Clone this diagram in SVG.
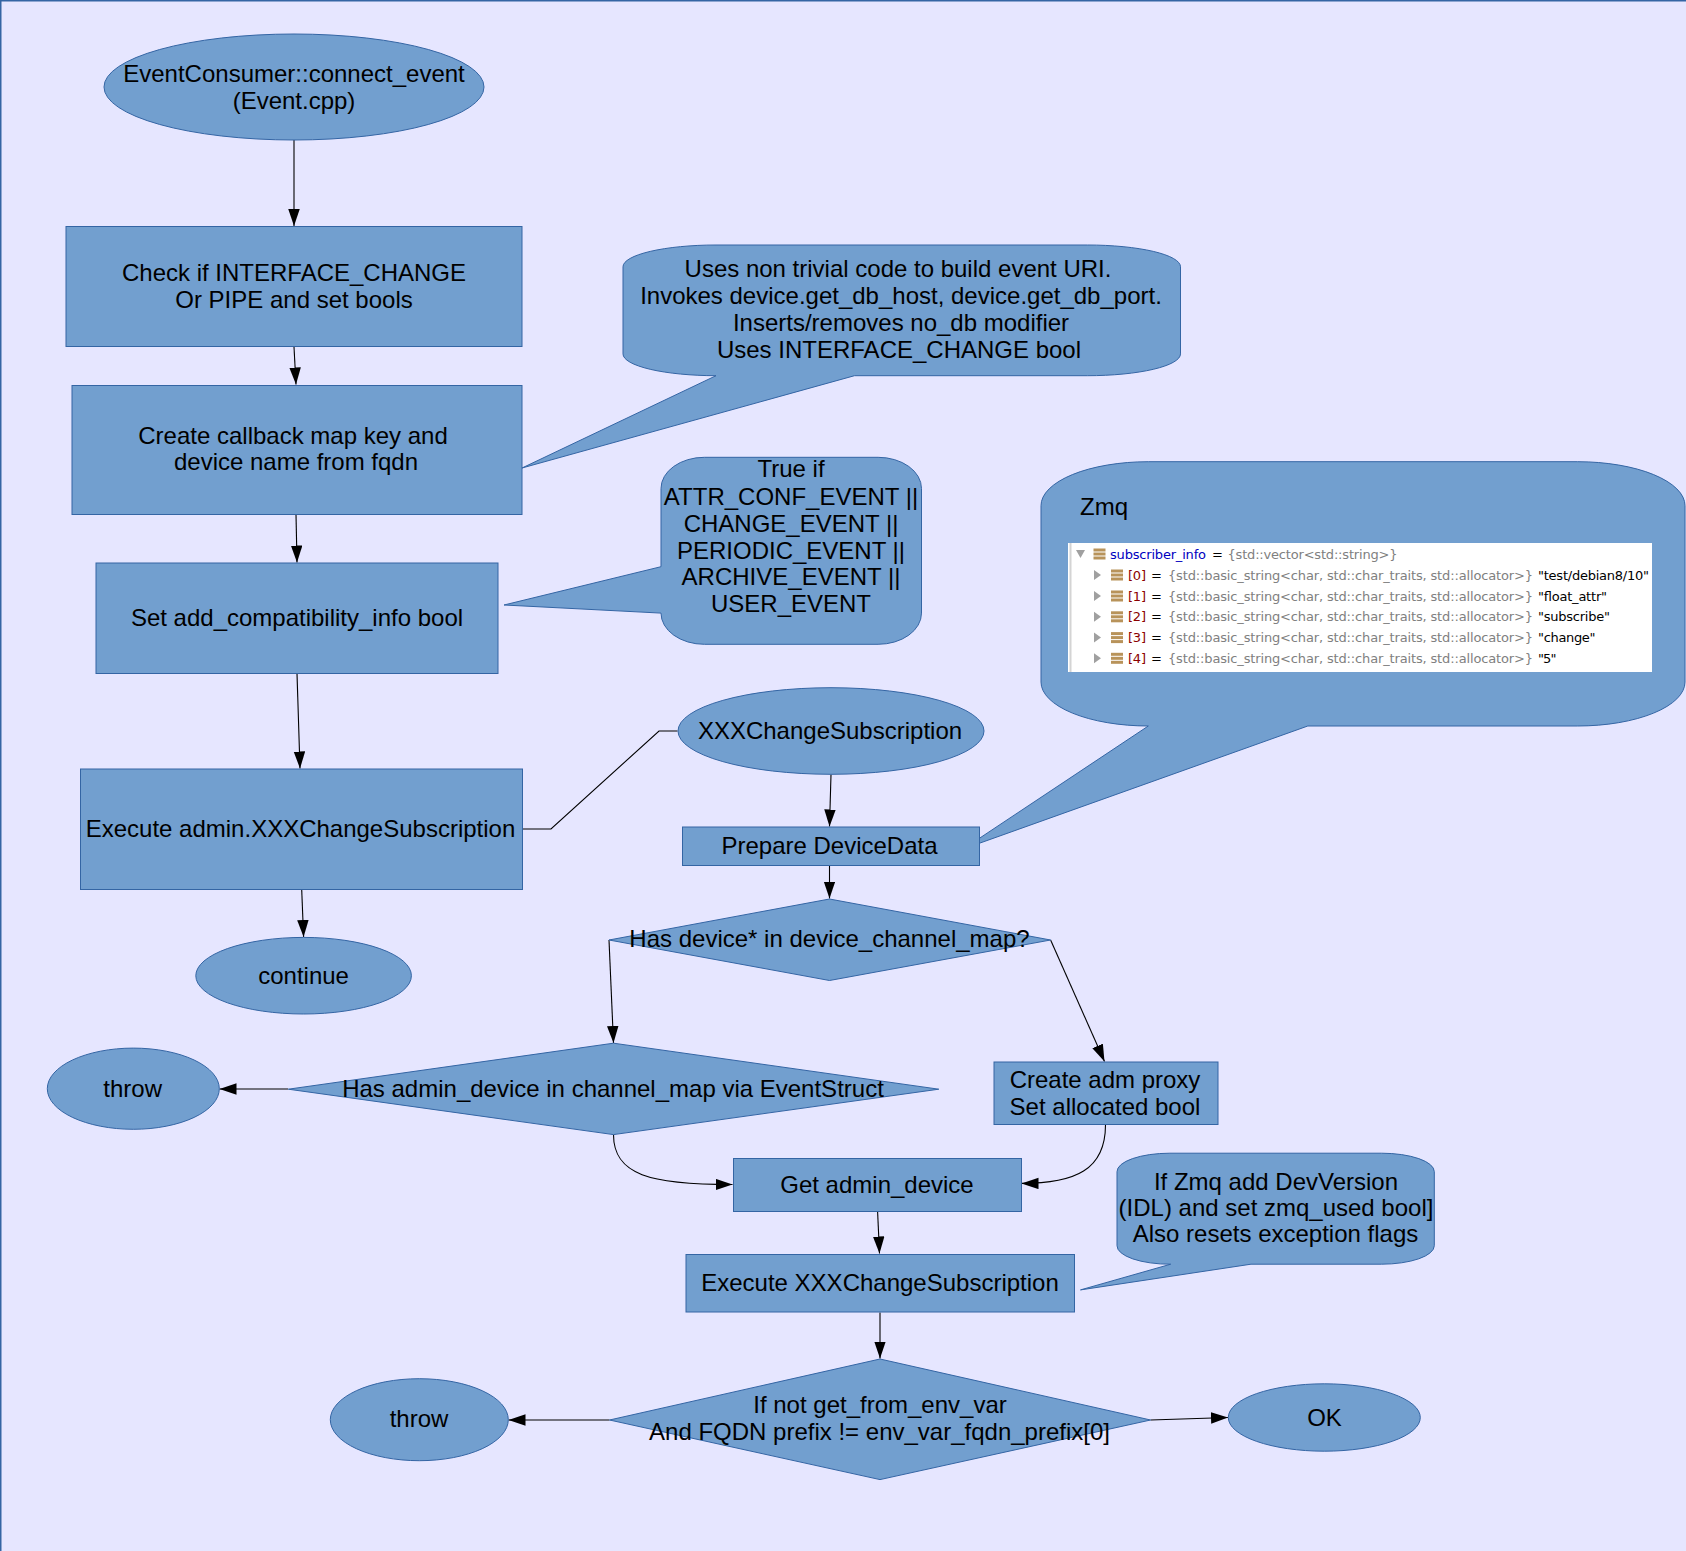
<svg xmlns="http://www.w3.org/2000/svg" width="1686" height="1551" viewBox="0 0 1686 1551">
<style>
.sh{fill:#729fcf;stroke:#3465a4;stroke-width:1}
.t{font-family:"Liberation Sans",Arial,sans-serif;font-size:24px;fill:#000;text-anchor:middle}
.c{fill:none;stroke:#000;stroke-width:1.1}
.ca{fill:none;stroke:#000;stroke-width:1.1;marker-end:url(#ah)}
.tr{font-family:"DejaVu Sans",Verdana,sans-serif;font-size:13px}
.g{fill:#808080}
.v{fill:#0000c0}
.k{fill:#000}
.r{fill:#8b0000}
.ic{fill:#b8935a}
.tri{fill:#a0a0a0}
</style>
<defs>
<marker id="ah" markerUnits="userSpaceOnUse" markerWidth="18" markerHeight="12" refX="17" refY="5.75" orient="auto">
<path d="M0,0 L17,5.75 L0,11.5 Z" fill="#000"/>
</marker>
<g id="icon"><rect x="0" y="-5.5" width="12" height="3"/><rect x="0" y="-1.5" width="12" height="3"/><rect x="0" y="2.5" width="12" height="3"/></g>
</defs>
<rect x="0" y="0" width="1686" height="1551" fill="#e6e6ff"/>
<path d="M0.75,1551 V0.75 H1686" fill="none" stroke="#3465a4" stroke-width="1.5"/>

<g id="connectors">
<path class="ca" d="M294,140 L294,226"/>
<path class="ca" d="M294,347 L296,384.5"/>
<path class="ca" d="M296,514.5 L297,562.5"/>
<path class="ca" d="M297,673.5 L300,768.5"/>
<path class="ca" d="M301.7,889.5 L303.6,937"/>
<path class="c" d="M522,829 L551,829 L659,731 L677.5,731"/>
<path class="ca" d="M831,774.5 L829.5,826.5"/>
<path class="ca" d="M829.5,865.5 L829.5,898.5"/>
<path class="ca" d="M609,940 L613.5,1043"/>
<path class="ca" d="M1050.6,940 L1104.5,1061.5"/>
<path class="ca" d="M288,1089 L219.5,1089"/>
<path class="ca" d="M613.5,1134.6 C613.5,1175 650,1184.5 732.5,1184.5"/>
<path class="ca" d="M1105.5,1124.7 C1105.5,1170 1075,1183.4 1021.5,1183.4"/>
<path class="ca" d="M877.6,1211.5 L879.5,1253.5"/>
<path class="ca" d="M880,1312.5 L880,1358.5"/>
<path class="ca" d="M609.5,1420 L508.5,1420"/>
<path class="ca" d="M1150.6,1420 L1228,1417.5"/>
</g>

<g id="n_start">
<ellipse class="sh" cx="294" cy="87" rx="190" ry="53"/>
<text class="t" x="294" y="82">EventConsumer::connect_event</text>
<text class="t" x="294" y="109">(Event.cpp)</text>
</g>

<g id="n_check">
<rect class="sh" x="66" y="226.5" width="456" height="120"/>
<text class="t" x="294" y="281">Check if INTERFACE_CHANGE</text>
<text class="t" x="294" y="307.5">Or PIPE and set bools</text>
</g>

<g id="n_callback">
<rect class="sh" x="72" y="385.5" width="450" height="129"/>
<text class="t" x="293" y="444">Create callback map key and</text>
<text class="t" x="296" y="470">device name from fqdn</text>
</g>

<g id="note_uri">
<path class="sh" d="M716,245 L1087.5,245 A93 21.8 0 0 1 1180.5,266.8 L1180.5,353.9 A93 21.8 0 0 1 1087.5,375.7 L854.5,375.7 L522,468 L716,375.7 A93 21.8 0 0 1 623,353.9 L623,266.8 A93 21.8 0 0 1 716,245 Z"/>
<text class="t" x="898" y="277">Uses non trivial code to build event URI.</text>
<text class="t" x="901" y="304">Invokes device.get_db_host, device.get_db_port.</text>
<text class="t" x="901" y="331">Inserts/removes no_db modifier</text>
<text class="t" x="899" y="358">Uses INTERFACE_CHANGE bool</text>
</g>

<g id="n_compat">
<rect class="sh" x="96" y="563" width="402" height="110.5"/>
<text class="t" x="297" y="626">Set add_compatibility_info bool</text>
</g>

<g id="note_true">
<path class="sh" d="M704.4,457.3 L878.1,457.3 A43.4 31.2 0 0 1 921.5,488.5 L921.5,613.1 A43.4 31.2 0 0 1 878.1,644.3 L704.4,644.3 A43.4 31.2 0 0 1 661,613.1 L504,605 L661,566.7 L661,488.5 A43.4 31.2 0 0 1 704.4,457.3 Z"/>
<text class="t" x="791" y="477">True if</text>
<text class="t" x="791" y="505">ATTR_CONF_EVENT ||</text>
<text class="t" x="791" y="531.5">CHANGE_EVENT ||</text>
<text class="t" x="791" y="558.5">PERIODIC_EVENT ||</text>
<text class="t" x="791" y="585">ARCHIVE_EVENT ||</text>
<text class="t" x="791" y="611.5">USER_EVENT</text>
</g>

<g id="note_zmq">
<path class="sh" d="M1148.3,461.7 L1577.7,461.7 A107.3 44 0 0 1 1685,505.7 L1685,682 A107.3 44 0 0 1 1577.7,726 L1307.8,726 L963.3,849 L1148.3,726 A107.3 44 0 0 1 1041,682 L1041,505.7 A107.3 44 0 0 1 1148.3,461.7 Z"/>
<text class="t" x="1080" y="515" style="text-anchor:start">Zmq</text>
<rect x="1068" y="543" width="584" height="129" fill="#fff"/>
<rect x="1069.5" y="543" width="2" height="129" fill="#d4d4d4"/>
<path class="tri" d="M1076,550 L1085,550 L1080.5,558 Z"/>
<use href="#icon" x="1093.5" y="554" class="ic"/>
<text class="tr" y="558.5"><tspan class="v" x="1110" textLength="96">subscriber_info</tspan><tspan class="k" x="1212">=</tspan><tspan class="g" x="1227.5" textLength="170">{std::vector&lt;std::string&gt;}</tspan></text>
<path class="tri" d="M1094,570 L1101,575 L1094,580 Z"/>
<use href="#icon" x="1111" y="575" class="ic"/>
<text class="tr" y="579.5"><tspan class="r" x="1128" textLength="18">[0]</tspan><tspan class="k" x="1151">=</tspan><tspan class="g" x="1168" textLength="365">{std::basic_string&lt;char, std::char_traits, std::allocator&gt;}</tspan><tspan class="k" x="1538" textLength="111">"test/debian8/10"</tspan></text>
<path class="tri" d="M1094,591 L1101,596 L1094,601 Z"/>
<use href="#icon" x="1111" y="596" class="ic"/>
<text class="tr" y="600.5"><tspan class="r" x="1128" textLength="18">[1]</tspan><tspan class="k" x="1151">=</tspan><tspan class="g" x="1168" textLength="365">{std::basic_string&lt;char, std::char_traits, std::allocator&gt;}</tspan><tspan class="k" x="1538" textLength="69">"float_attr"</tspan></text>
<path class="tri" d="M1094,611.8 L1101,616.8 L1094,621.8 Z"/>
<use href="#icon" x="1111" y="616.8" class="ic"/>
<text class="tr" y="621.3"><tspan class="r" x="1128" textLength="18">[2]</tspan><tspan class="k" x="1151">=</tspan><tspan class="g" x="1168" textLength="365">{std::basic_string&lt;char, std::char_traits, std::allocator&gt;}</tspan><tspan class="k" x="1538" textLength="72">"subscribe"</tspan></text>
<path class="tri" d="M1094,632.6 L1101,637.6 L1094,642.6 Z"/>
<use href="#icon" x="1111" y="637.6" class="ic"/>
<text class="tr" y="642.1"><tspan class="r" x="1128" textLength="18">[3]</tspan><tspan class="k" x="1151">=</tspan><tspan class="g" x="1168" textLength="365">{std::basic_string&lt;char, std::char_traits, std::allocator&gt;}</tspan><tspan class="k" x="1538" textLength="57.5">"change"</tspan></text>
<path class="tri" d="M1094,653.3 L1101,658.3 L1094,663.3 Z"/>
<use href="#icon" x="1111" y="658.3" class="ic"/>
<text class="tr" y="662.8"><tspan class="r" x="1128" textLength="18">[4]</tspan><tspan class="k" x="1151">=</tspan><tspan class="g" x="1168" textLength="365">{std::basic_string&lt;char, std::char_traits, std::allocator&gt;}</tspan><tspan class="k" x="1538" textLength="18.5">"5"</tspan></text>
</g>

<g id="n_exec_admin">
<rect class="sh" x="80.5" y="769" width="442" height="120.5"/>
<text class="t" x="300.5" y="837">Execute admin.XXXChangeSubscription</text>
</g>

<g id="n_xxx">
<ellipse class="sh" cx="831" cy="731" rx="153" ry="43.3"/>
<text class="t" x="830" y="739">XXXChangeSubscription</text>
</g>

<g id="n_prepare">
<rect class="sh" x="682.5" y="827" width="297" height="38.5"/>
<text class="t" x="829.5" y="853.5">Prepare DeviceData</text>
</g>

<g id="n_continue">
<ellipse class="sh" cx="303.6" cy="975.7" rx="107.8" ry="38.3"/>
<text class="t" x="303.6" y="983.5">continue</text>
</g>

<g id="n_has_device">
<path class="sh" d="M829.5,899 L1050.6,940 L829.5,980.5 L609,940 Z"/>
<text class="t" x="829.5" y="947">Has device* in device_channel_map?</text>
</g>

<g id="n_throw1">
<ellipse class="sh" cx="133.3" cy="1088.7" rx="86" ry="40.6"/>
<text class="t" x="132.7" y="1096.6">throw</text>
</g>

<g id="n_has_admin">
<path class="sh" d="M613.5,1043.2 L938.8,1089.2 L613.5,1134.6 L288.3,1089.2 Z"/>
<text class="t" x="613" y="1096.6">Has admin_device in channel_map via EventStruct</text>
</g>

<g id="n_create_adm">
<rect class="sh" x="994" y="1062" width="224" height="62.5"/>
<text class="t" x="1105" y="1088">Create adm proxy</text>
<text class="t" x="1105" y="1115">Set allocated bool</text>
</g>

<g id="n_get_admin">
<rect class="sh" x="733.5" y="1158.5" width="288" height="53"/>
<text class="t" x="877" y="1192.5">Get admin_device</text>
</g>

<g id="note_zmq_dev">
<path class="sh" d="M1169.9,1153.2 L1381.4,1153.2 A52.9 18.5 0 0 1 1434.3,1171.7 L1434.3,1245.7 A52.9 18.5 0 0 1 1381.4,1264.2 L1251,1264.2 L1080.5,1289.9 L1170.7,1264.2 A52.9 18.5 0 0 1 1117,1245.7 L1117,1171.7 A52.9 18.5 0 0 1 1169.9,1153.2 Z"/>
<text class="t" x="1276" y="1189.7">If Zmq add DevVersion</text>
<text class="t" x="1276" y="1216">(IDL) and set zmq_used bool]</text>
<text class="t" x="1275.5" y="1242.4">Also resets exception flags</text>
</g>

<g id="n_exec_xxx">
<rect class="sh" x="686" y="1254.5" width="388.5" height="57.5"/>
<text class="t" x="880" y="1291">Execute XXXChangeSubscription</text>
</g>

<g id="n_if_not">
<path class="sh" d="M880,1359 L1150.6,1420 L880,1479.6 L609.5,1420 Z"/>
<text class="t" x="880" y="1413">If not get_from_env_var</text>
<text class="t" x="879.5" y="1440">And FQDN prefix != env_var_fqdn_prefix[0]</text>
</g>

<g id="n_throw2">
<ellipse class="sh" cx="419.3" cy="1419.7" rx="89" ry="41"/>
<text class="t" x="419" y="1427">throw</text>
</g>

<g id="n_ok">
<ellipse class="sh" cx="1324.3" cy="1417.5" rx="96" ry="33.7"/>
<text class="t" x="1324.5" y="1426">OK</text>
</g>
</svg>
